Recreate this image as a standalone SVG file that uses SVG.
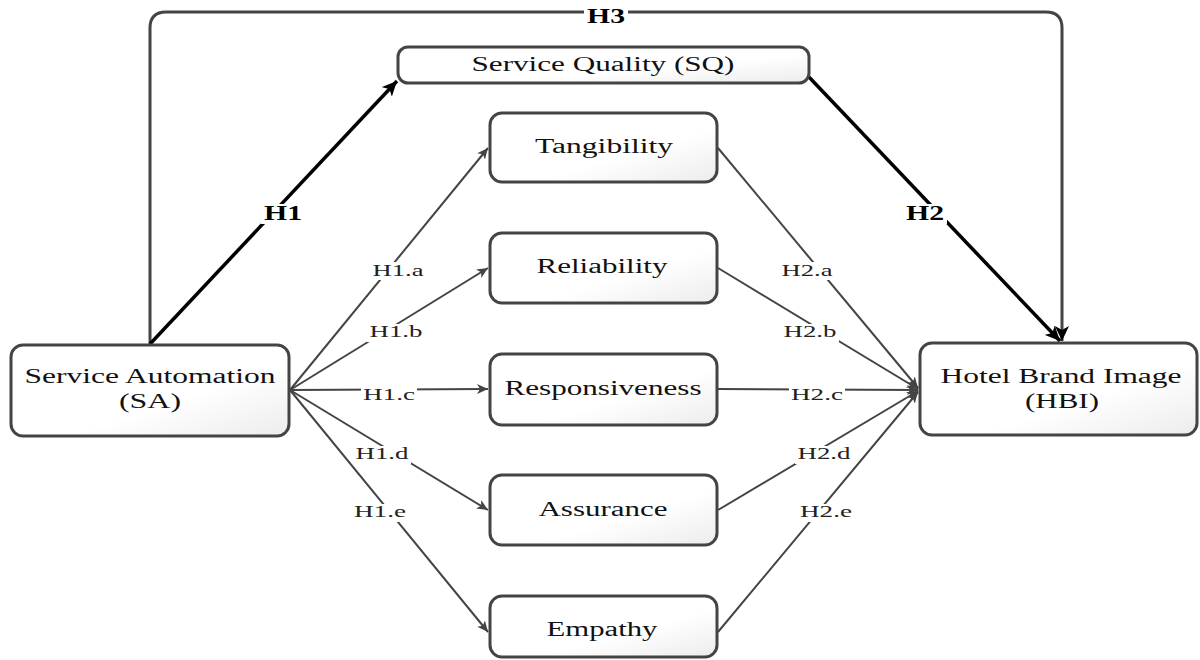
<svg xmlns="http://www.w3.org/2000/svg" width="1200" height="660" viewBox="0 0 1200 660">
<style>
.box{fill:url(#g);stroke:#444;stroke-width:3}
.t{font-family:"Liberation Serif","Times New Roman",serif;font-size:20px;fill:#111;text-anchor:middle}
.el{font-family:"Liberation Serif","Times New Roman",serif;font-size:17px;fill:#222;text-anchor:middle}
.bl{font-family:"Liberation Serif","Times New Roman",serif;font-size:20px;font-weight:bold;fill:#000;text-anchor:middle}
.bg{fill:#fff;stroke:none}
.thin{fill:none;stroke:#444;stroke-width:2;marker-end:url(#a)}
.thick{fill:none;stroke:#000;stroke-width:3.5;marker-end:url(#ab)}
.loop{fill:none;stroke:#444;stroke-width:3;marker-end:url(#ab)}
</style>
<defs>
<linearGradient id="g" x1="0" y1="0" x2="1" y2="1">
<stop offset="0" stop-color="#ffffff"/>
<stop offset="0.6" stop-color="#ffffff"/>
<stop offset="1" stop-color="#ececec"/>
</linearGradient>
<marker id="a" markerWidth="12" markerHeight="10" refX="11" refY="5" orient="auto" markerUnits="userSpaceOnUse">
<path d="M0,0 L11,5 L0,10 L3,5 z" fill="#444"/>
</marker>
<marker id="ab" markerWidth="16" markerHeight="14" refX="15" refY="7" orient="auto" markerUnits="userSpaceOnUse">
<path d="M0,0 L15,7 L0,14 L4,7 z" fill="#000"/>
</marker>
</defs>
<rect width="1200" height="660" fill="#fff"/>

<g id="connectors">
<path class="loop" d="M150,345 V28 Q150,12 166,12 H1046 Q1062,12 1062,28 V341"/>
<path class="thick" d="M150,344 L397,81"/>
<path class="thick" d="M808,76 L1060,341"/>
<path class="thin" d="M290,390 L488,148"/>
<path class="thin" d="M290,390 L488,268"/>
<path class="thin" d="M290,390 L488,389"/>
<path class="thin" d="M290,390 L488,510"/>
<path class="thin" d="M290,390 L488,632"/>
<path class="thin" d="M718,148 L918,388"/>
<path class="thin" d="M718,268 L918,389"/>
<path class="thin" d="M718,389 L918,390"/>
<path class="thin" d="M718,510 L918,391"/>
<path class="thin" d="M718,632 L918,392"/>
<rect class="bg" x="584" y="8" width="44" height="18"/>
<rect class="bg" x="261" y="204" width="44" height="20"/>
<rect class="bg" x="903" y="204" width="44" height="20"/>
<rect class="bg" x="370" y="262" width="56" height="18"/>
<rect class="bg" x="367" y="324" width="58" height="18"/>
<rect class="bg" x="361" y="387" width="56" height="18"/>
<rect class="bg" x="353" y="446" width="58" height="18"/>
<rect class="bg" x="352" y="504" width="56" height="18"/>
<rect class="bg" x="779" y="262" width="56" height="18"/>
<rect class="bg" x="781" y="324" width="58" height="18"/>
<rect class="bg" x="789" y="387" width="56" height="18"/>
<rect class="bg" x="795" y="446" width="58" height="18"/>
<rect class="bg" x="798" y="504" width="56" height="18"/>
<text class="bl" x="606" y="23" textLength="38" lengthAdjust="spacingAndGlyphs">H3</text>
<text class="bl" x="283" y="220" textLength="38" lengthAdjust="spacingAndGlyphs">H1</text>
<text class="bl" x="925" y="220" textLength="38" lengthAdjust="spacingAndGlyphs">H2</text>
<text class="el" x="398" y="276" textLength="51" lengthAdjust="spacingAndGlyphs">H1.a</text>
<text class="el" x="396" y="337" textLength="53" lengthAdjust="spacingAndGlyphs">H1.b</text>
<text class="el" x="389" y="400" textLength="52" lengthAdjust="spacingAndGlyphs">H1.c</text>
<text class="el" x="382" y="459" textLength="53" lengthAdjust="spacingAndGlyphs">H1.d</text>
<text class="el" x="380" y="517" textLength="52" lengthAdjust="spacingAndGlyphs">H1.e</text>
<text class="el" x="807" y="276" textLength="51" lengthAdjust="spacingAndGlyphs">H2.a</text>
<text class="el" x="810" y="337" textLength="53" lengthAdjust="spacingAndGlyphs">H2.b</text>
<text class="el" x="817" y="400" textLength="52" lengthAdjust="spacingAndGlyphs">H2.c</text>
<text class="el" x="824" y="459" textLength="53" lengthAdjust="spacingAndGlyphs">H2.d</text>
<text class="el" x="826" y="517" textLength="52" lengthAdjust="spacingAndGlyphs">H2.e</text>
</g>

<g id="SQ">
<rect class="box" x="398" y="47" width="411" height="36" rx="10"/>
<text class="t" x="603" y="71" textLength="263" lengthAdjust="spacingAndGlyphs">Service Quality (SQ)</text>
</g>
<g id="SA">
<rect class="box" x="11" y="345" width="278" height="91" rx="12"/>
<text class="t" x="150" y="383" textLength="251" lengthAdjust="spacingAndGlyphs">Service Automation</text>
<text class="t" x="150" y="408" textLength="62" lengthAdjust="spacingAndGlyphs">(SA)</text>
</g>
<g id="HBI">
<rect class="box" x="920" y="343" width="277" height="92" rx="12"/>
<text class="t" x="1061" y="383" textLength="241" lengthAdjust="spacingAndGlyphs">Hotel Brand Image</text>
<text class="t" x="1062" y="408" textLength="74" lengthAdjust="spacingAndGlyphs">(HBI)</text>
</g>
<g id="Tangibility">
<rect class="box" x="490" y="113" width="227" height="69" rx="12"/>
<text class="t" x="604" y="153" textLength="138" lengthAdjust="spacingAndGlyphs">Tangibility</text>
</g>
<g id="Reliability">
<rect class="box" x="490" y="233" width="227" height="70" rx="12"/>
<text class="t" x="602" y="273" textLength="131" lengthAdjust="spacingAndGlyphs">Reliability</text>
</g>
<g id="Responsiveness">
<rect class="box" x="490" y="354" width="227" height="71" rx="12"/>
<text class="t" x="603" y="395" textLength="197" lengthAdjust="spacingAndGlyphs">Responsiveness</text>
</g>
<g id="Assurance">
<rect class="box" x="490" y="475" width="227" height="70" rx="12"/>
<text class="t" x="603" y="516" textLength="129" lengthAdjust="spacingAndGlyphs">Assurance</text>
</g>
<g id="Empathy">
<rect class="box" x="490" y="596" width="227" height="61" rx="12"/>
<text class="t" x="602" y="636" textLength="111" lengthAdjust="spacingAndGlyphs">Empathy</text>
</g>
</svg>
